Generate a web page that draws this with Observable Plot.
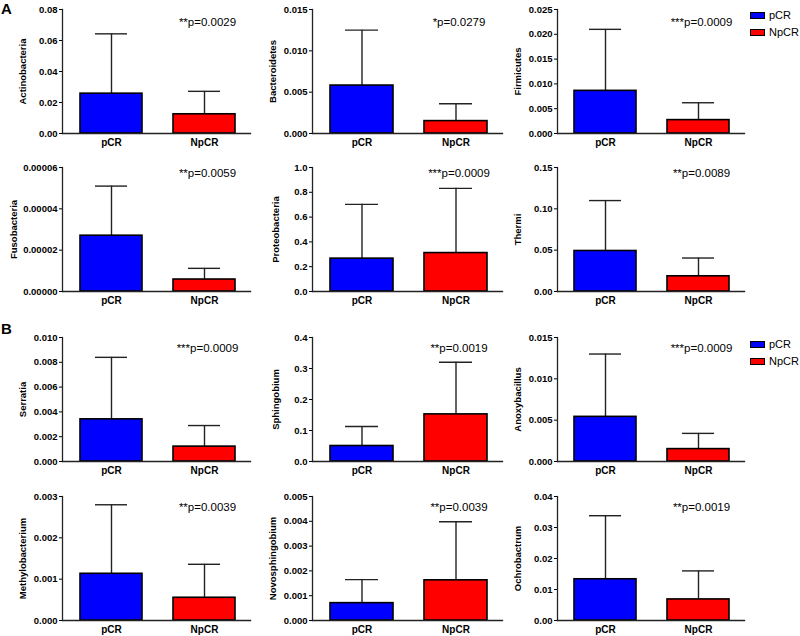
<!DOCTYPE html>
<html>
<head>
<meta charset="utf-8">
<script src="https://cdn.jsdelivr.net/npm/d3@7"></script>
<script src="https://cdn.jsdelivr.net/npm/@observablehq/plot@0.6"></script>
<style>
  html, body { margin: 0; padding: 0; background: #fff; }
  #fig { position: relative; width: 800px; height: 636px; overflow: hidden; font-family: "Liberation Sans", Arial, Helvetica, sans-serif; }
  .panel { position: absolute; }
  .panel svg { overflow: visible; }
  .tag { position: absolute; font-weight: bold; font-size: 15px; line-height: 1; }
  .legend { position: absolute; font-size: 11px; line-height: 1; }
  .legend .row { display: flex; align-items: center; height: 17px; }
  .legend .sw { width: 13px; height: 5px; border: 1.6px solid #000; margin-right: 4px; }
</style>
</head>
<body>
<div id="fig"></div>
<script>
// ---------------- data ----------------
const groups = ["pCR", "NpCR"];
const groupColors = ["#0000ff", "#ff0000"];
const taxa = ["Actinobacteria", "Bacteroidetes", "Firmicutes",
              "Fusobacteria", "Proteobacteria", "Thermi",
              "Serratia", "Sphingobium", "Anoxybacillus",
              "Methylobacterium", "Novosphingobium", "Ochrobactrum"];
const meanPCR  = [0.0257, 0.0058, 0.0086, 0.000027, 0.265, 0.049, 0.0034, 0.050, 0.0054, 0.00113, 0.00070, 0.0133];
const upperPCR = [0.0643, 0.0125, 0.0210, 0.000051, 0.703, 0.110, 0.0084, 0.113, 0.0130, 0.00280, 0.00165, 0.0338];
const meanNpCR  = [0.0124, 0.0015, 0.0027, 0.0000058, 0.310, 0.0184, 0.0012, 0.152, 0.0015, 0.00055, 0.00162, 0.0068];
const upperNpCR = [0.0272, 0.0036, 0.0062, 0.0000112, 0.832, 0.0405, 0.0029, 0.320, 0.0034, 0.00136, 0.00398, 0.0160];
const pLabels = ["**p=0.0029", "*p=0.0279", "***p=0.0009",
                 "**p=0.0059", "***p=0.0009", "**p=0.0089",
                 "***p=0.0009", "**p=0.0019", "***p=0.0009",
                 "**p=0.0039", "**p=0.0039", "**p=0.0019"];
const yTickMax  = [0.08, 0.015, 0.025, 0.00006, 1.0, 0.15, 0.010, 0.4, 0.015, 0.003, 0.005, 0.04];
const yTickStep = [0.02, 0.005, 0.005, 0.00002, 0.2, 0.05, 0.002, 0.1, 0.005, 0.001, 0.001, 0.01];
const yTickDecimals = [2, 3, 3, 5, 1, 2, 3, 1, 3, 3, 3, 2];
const panelTags = ["A", "B"];

// ---------------- layout ----------------
const FONT = '"Liberation Sans", Arial, Helvetica, sans-serif';
const colAxisX = [62, 312, 557];
const colFrameW = [188, 190, 187];
const rowTop = [9, 167, 337, 496];
const rowTextDy = [8, 1, 6, 6];
const frameH = 124;
const ML = 62, MR = 6, MT = 9, MB = 20;

const fig = document.getElementById("fig");

taxa.forEach((name, i) => {
  const row = Math.floor(i / 3), col = i % 3;
  const data = groups.map((g, j) => ({
    group: g,
    mean: j === 0 ? meanPCR[i] : meanNpCR[i],
    upper: j === 0 ? upperPCR[i] : upperNpCR[i]
  }));
  const ticks = d3.range(0, yTickMax[i] + yTickStep[i] / 2, yTickStep[i]);
  const fmt = d3.format(`.${yTickDecimals[i]}f`);
  const labelOffset = yTickDecimals[i] >= 5 ? 49 : (yTickDecimals[i] <= 1 ? 37 : 40);
  const chart = Plot.plot({
    width: ML + colFrameW[col] + MR,
    height: MT + frameH + MB,
    marginLeft: ML, marginRight: MR, marginTop: MT, marginBottom: MB,
    style: { fontFamily: FONT, background: "transparent", color: "#000", overflow: "visible" },
    x: { domain: groups, paddingInner: 0.33, paddingOuter: 0.17, align: 0.55 },
    y: { domain: [0, yTickMax[i]] },
    color: { domain: groups, range: groupColors },
    marks: [
      Plot.ruleX(data, { x: "group", y1: "mean", y2: "upper", stroke: "#222", strokeWidth: 1.4 }),
      Plot.tickY(data, { x: "group", y: "upper", insetLeft: 15, insetRight: 15, stroke: "#222", strokeWidth: 1.4 }),
      Plot.barY(data, { x: "group", y: "mean", fill: "group", stroke: "#000", strokeWidth: 1.6 }),
      Plot.frame({ anchor: "left", stroke: "#222", strokeWidth: 1.3 }),
      Plot.frame({ anchor: "bottom", stroke: "#222", strokeWidth: 1.3 }),
      Plot.axisY({ ticks, tickFormat: fmt, tickSize: 3, tickPadding: 2, fontWeight: "bold", fontSize: 9.5, label: null }),
      Plot.axisX({ tickSize: 0, tickPadding: 5, fontWeight: "bold", fontSize: 10, label: null }),
      Plot.text([name], { frameAnchor: "left", dx: -labelOffset, rotate: -90, textAnchor: "middle", text: d => d, fontWeight: "bold", fontSize: 9.5 }),
      Plot.text([pLabels[i]], { x: () => "NpCR", frameAnchor: "top", dx: 3, dy: rowTextDy[row], text: d => d, fontSize: 11.5 })
    ]
  });
  const wrap = document.createElement("div");
  wrap.className = "panel";
  wrap.style.left = (colAxisX[col] - ML) + "px";
  wrap.style.top = (rowTop[row] - MT) + "px";
  wrap.appendChild(chart);
  fig.appendChild(wrap);
});

// panel tags
[[0, 1], [1, 321]].forEach(([k, top]) => {
  const t = document.createElement("div");
  t.className = "tag";
  t.textContent = panelTags[k];
  t.style.left = "1px";
  t.style.top = top + "px";
  fig.appendChild(t);
});

// legends (rows 1 and 3)
[7, 336].forEach(top => {
  const lg = document.createElement("div");
  lg.className = "legend";
  lg.style.left = "750px";
  lg.style.top = top + "px";
  groups.forEach((g, j) => {
    const r = document.createElement("div");
    r.className = "row";
    const sw = document.createElement("div");
    sw.className = "sw";
    sw.style.background = groupColors[j];
    const tx = document.createElement("span");
    tx.textContent = g;
    r.appendChild(sw);
    r.appendChild(tx);
    lg.appendChild(r);
  });
  fig.appendChild(lg);
});
</script>
</body>
</html>
